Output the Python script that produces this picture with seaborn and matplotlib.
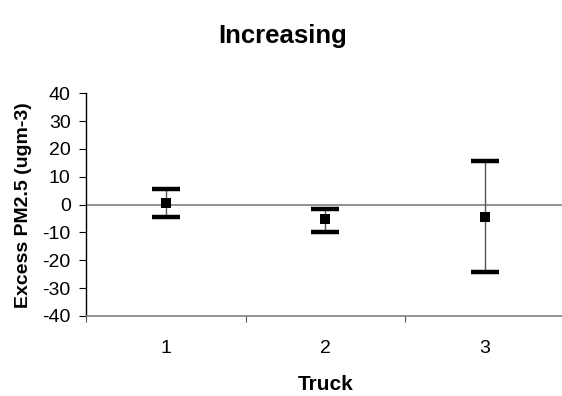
import matplotlib
matplotlib.use("Agg")
import matplotlib.pyplot as plt
import seaborn as sns
import numpy as np
import pandas as pd

# Excess PM2.5 per truck: mean with lower / upper limits
trucks = ["1", "2", "3"]
mean_pm = [0.7, -5.2, -4.3]
lower_pm = [-4.6, -9.7, -24.1]
upper_pm = [5.5, -1.7, 15.8]
y_ticks = [-40, -30, -20, -10, 0, 10, 20, 30, 40]

df = pd.DataFrame({"Truck": trucks, "PM": mean_pm,
                   "lo": lower_pm, "hi": upper_pm})

sns.set_theme(style="white")
plt.rcParams["font.family"] = ["Liberation Sans", "DejaVu Sans"]
plt.rcParams["text.color"] = "black"
plt.rcParams["axes.labelcolor"] = "black"
plt.rcParams["xtick.color"] = "black"
plt.rcParams["ytick.color"] = "black"

fig = plt.figure(figsize=(5.62, 3.96), dpi=100)
ax = fig.add_axes([86 / 562, 80 / 396, 478.5 / 562, 222.7 / 396])

# error bars: thin grey stems with heavy black caps
pos = np.arange(len(df))
err = np.vstack([df["PM"] - df["lo"], df["hi"] - df["PM"]])
ax.errorbar(pos, df["PM"], yerr=err, fmt="none", ecolor="#555555",
            elinewidth=1.0, capsize=0, zorder=2)
for col in ("lo", "hi"):
    ax.plot(pos, df[col], linestyle="none", marker="_", markersize=20,
            markeredgewidth=3.2, color="black", zorder=3)

sns.scatterplot(data=df, x="Truck", y="PM", marker="s", s=50,
                color="black", edgecolor="none", ax=ax, zorder=4)

ax.axhline(0, color="#808080", linewidth=1.2, zorder=1)

ax.set_xlim(-0.5, len(df) - 0.5)
ax.set_ylim(-40, 40)
ax.set_yticks(y_ticks)
ax.set_yticklabels([str(t) for t in y_ticks], fontsize=14)
ax.set_xticks(pos)
ax.set_xticklabels(trucks, fontsize=14)
ax.tick_params(axis="x", which="major", length=0, pad=17)
ax.set_xticks(np.arange(len(df) + 1) - 0.5, minor=True)
ax.tick_params(axis="x", which="minor", bottom=True, length=4, width=0.8,
               color="#555555", direction="out")
ax.tick_params(axis="y", length=5, width=0.8, color="black",
               direction="out", pad=6, left=True)

for side in ("top", "right"):
    ax.spines[side].set_visible(False)
ax.spines["left"].set_color("black")
ax.spines["left"].set_linewidth(1.0)
ax.spines["bottom"].set_color("#808080")
ax.spines["bottom"].set_linewidth(1.2)

ax.set_xlabel("Truck", fontsize=15, fontweight="bold")
ax.xaxis.set_label_coords(0.5, -0.265)
ax.set_ylabel("Excess PM2.5 (ugm-3)", fontsize=14, fontweight="bold")
ax.yaxis.set_label_coords(-0.113, 0.5)
fig.text(283 / 562, 1 - 36 / 396, "Increasing", ha="center", va="center",
         fontsize=18.5, fontweight="bold")

fig.savefig("out.png", dpi=100)
